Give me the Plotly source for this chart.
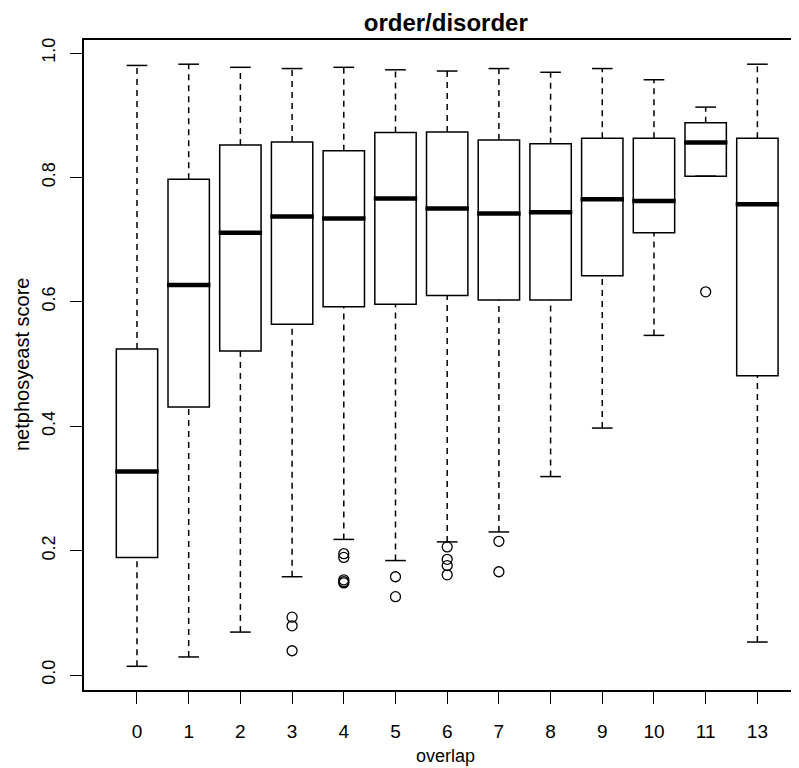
import plotly.graph_objects as go

# ---- data ----
categories = ['0', '1', '2', '3', '4', '5', '6', '7', '8', '9', '10', '11', '13']
lower_whisker = [0.014, 0.029, 0.069, 0.158, 0.218, 0.184, 0.214, 0.230, 0.319, 0.397, 0.546, 0.802, 0.053]
q1_vals       = [0.189, 0.431, 0.521, 0.564, 0.592, 0.596, 0.610, 0.603, 0.603, 0.642, 0.711, 0.802, 0.481]
median_vals   = [0.327, 0.627, 0.711, 0.737, 0.734, 0.766, 0.750, 0.742, 0.744, 0.765, 0.762, 0.856, 0.757]
q3_vals       = [0.524, 0.797, 0.852, 0.857, 0.843, 0.872, 0.873, 0.860, 0.854, 0.863, 0.863, 0.888, 0.863]
upper_whisker = [0.980, 0.982, 0.977, 0.975, 0.977, 0.973, 0.971, 0.975, 0.969, 0.975, 0.957, 0.913, 0.982]

outlier_cat = ['3', '3', '3', '4', '4', '4', '4', '4', '5', '5', '6', '6', '6', '6', '7', '7', '11']
outlier_val = [0.093, 0.079, 0.039, 0.195, 0.189, 0.153, 0.150, 0.148, 0.158, 0.126,
               0.206, 0.186, 0.176, 0.161, 0.215, 0.166, 0.616]

y_tick_vals = [0.0, 0.2, 0.4, 0.6, 0.8, 1.0]
y_tick_text = ['0.0', '0.2', '0.4', '0.6', '0.8', '1.0']

# ---- figure ----
pos = list(range(len(categories)))
pos_of = {c: i for i, c in enumerate(categories)}
BOX_W = 0.8
STAPLE = 0.2

fig = go.Figure()

fig.add_trace(go.Box(
    x=pos, q1=q1_vals, median=median_vals, q3=q3_vals,
    lowerfence=q1_vals, upperfence=q3_vals,
    width=BOX_W, fillcolor='white', boxpoints=False,
    line=dict(color='black', width=1.5), showlegend=False, hoverinfo='skip'))

# dashed whiskers
wx, wy = [], []
for p, lo, a, b, hi in zip(pos, lower_whisker, q1_vals, q3_vals, upper_whisker):
    wx += [p, p, None, p, p, None]
    wy += [b, hi, None, lo, a, None]
fig.add_trace(go.Scatter(x=wx, y=wy, mode='lines', showlegend=False, hoverinfo='skip',
                         line=dict(color='black', width=1.5, dash='6px,5px')))

# staples
sx, sy = [], []
for p, lo, hi in zip(pos, lower_whisker, upper_whisker):
    sx += [p - STAPLE, p + STAPLE, None, p - STAPLE, p + STAPLE, None]
    sy += [hi, hi, None, lo, lo, None]
fig.add_trace(go.Scatter(x=sx, y=sy, mode='lines', showlegend=False, hoverinfo='skip',
                         line=dict(color='black', width=1.5)))

# thick medians
mx, my = [], []
for p, m in zip(pos, median_vals):
    mx += [p - 0.42, p + 0.42, None]
    my += [m, m, None]
fig.add_trace(go.Scatter(x=mx, y=my, mode='lines', showlegend=False, hoverinfo='skip',
                         line=dict(color='black', width=4.5)))

# outliers
fig.add_trace(go.Scatter(x=[pos_of[c] for c in outlier_cat], y=outlier_val, mode='markers',
                         showlegend=False, hoverinfo='skip',
                         marker=dict(symbol='circle-open', size=10, color='black',
                                     line=dict(width=1.3, color='black'))))

FONT = 'Liberation Sans, Arial, Helvetica, sans-serif'
W, H = 791, 760          # page body has an 8px margin
PLOT_W, PLOT_H = 715, 650
CENTER_X = 0.506         # R centres titles over its (wider, cropped) plot region
fig.update_layout(
    width=W, height=H,
    margin=dict(l=76, r=0, t=32, b=78),
    paper_bgcolor='white', plot_bgcolor='white',
    font=dict(family=FONT, size=20, color='black'),
    title=dict(text='<b>order/disorder</b>', xref='paper', x=CENTER_X, xanchor='center',
               y=1 - 15 / H, yanchor='middle', font=dict(size=24)),
    showlegend=False,
    annotations=[
        dict(text='overlap', xref='paper', yref='paper', x=CENTER_X, y=-66 / PLOT_H,
             xanchor='center', yanchor='middle', showarrow=False, font=dict(size=18)),
        dict(text='netphosyeast score', xref='paper', yref='paper', x=-62 / PLOT_W, y=0.5,
             xanchor='center', yanchor='middle', textangle=-90, showarrow=False,
             font=dict(size=20)),
    ],
)
fig.update_xaxes(
    range=[-1.025, 12.805], tickmode='array', tickvals=pos, ticktext=categories,
    ticks='outside', ticklen=12, tickwidth=1.3, tickcolor='black',
    showline=True, linecolor='black', linewidth=1.5, mirror=True,
    showgrid=False, zeroline=False, tickfont=dict(size=19),
    ticklabelstandoff=11)
fig.update_yaxes(
    range=[-0.0241, 1.0209], tickmode='array', tickvals=y_tick_vals, ticktext=y_tick_text,
    tickangle=-90, ticks='outside', ticklen=12, tickwidth=1.3, tickcolor='black',
    showline=True, linecolor='black', linewidth=1.5, mirror=False,
    showgrid=False, zeroline=False, tickfont=dict(size=18),
    ticklabelstandoff=8)

fig.write_html('out.html')
